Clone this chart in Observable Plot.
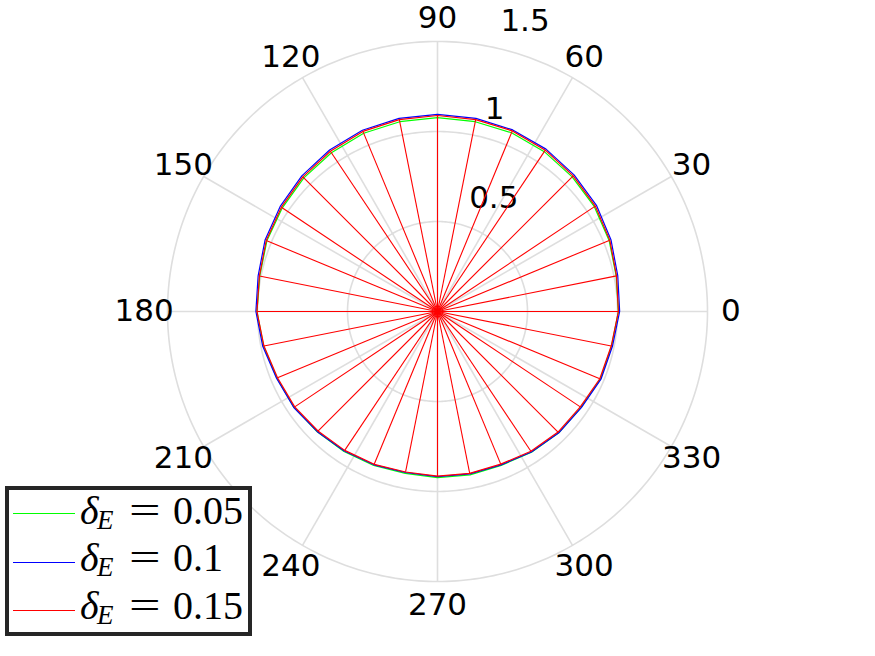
<!DOCTYPE html>
<html>
<head>
<meta charset="utf-8">
<script src="https://cdn.jsdelivr.net/npm/d3@7"></script>
<script src="https://cdn.jsdelivr.net/npm/@observablehq/plot@0.6"></script>
<style>
  html, body { margin: 0; padding: 0; background: #fff; }
  #wrap { position: relative; width: 875px; height: 656px; }
  #legend {
    position: absolute; left: 5px; top: 486px; width: 239px; height: 142px;
    border: 4px solid #262626; background: #fff;
    font-family: "Liberation Serif", "DejaVu Serif", serif; color: #000;
  }
  #legend .ln { position: absolute; left: 4px; width: 62px; height: 0; border-top: 1px solid; }
  #legend span { position: absolute; white-space: nowrap; line-height: 1; }
  #legend .big { font-size: 40px; }
  #legend .it { font-style: italic; }
  #legend .sub { font-size: 27px; font-style: italic; }
  #legend .eq { transform: scaleX(1.4); transform-origin: left center; }
</style>
</head>
<body>
<div id="wrap"></div>
<script>
// Angles (degrees) of the 32 sampled directions
const angles = [0, 11.25, 22.5, 33.75, 45, 56.25, 67.5, 78.75, 90, 101.25, 112.5, 123.75, 135, 146.25, 157.5, 168.75,
  180, 191.25, 202.5, 213.75, 225, 236.25, 247.5, 258.75, 270, 281.25, 292.5, 303.75, 315, 326.25, 337.5, 348.75];

// Radius values per series
const rGreen = [1.005, 1.012, 1.032, 1.048, 1.058, 1.068, 1.075, 1.075, 1.077, 1.075, 1.072, 1.061, 1.050, 1.037, 1.026, 1.007,
  1.003, 0.985, 0.966, 0.959, 0.945, 0.935, 0.926, 0.917, 0.923, 0.925, 0.925, 0.940, 0.953, 0.959, 0.980, 0.986];
const rBlue = [1.012, 1.021, 1.043, 1.062, 1.073, 1.085, 1.092, 1.094, 1.095, 1.094, 1.090, 1.079, 1.066, 1.051, 1.037, 1.016,
  1.009, 0.990, 0.968, 0.960, 0.944, 0.932, 0.922, 0.912, 0.917, 0.920, 0.922, 0.939, 0.953, 0.961, 0.983, 0.991];
const rRed = [1.005, 1.014, 1.036, 1.054, 1.066, 1.078, 1.086, 1.087, 1.089, 1.087, 1.083, 1.071, 1.058, 1.043, 1.030, 1.009,
  1.003, 0.983, 0.962, 0.954, 0.939, 0.928, 0.919, 0.909, 0.915, 0.917, 0.918, 0.934, 0.947, 0.954, 0.976, 0.984];

const seriesNames = ["δE = 0.05", "δE = 0.1", "δE = 0.15"];
const seriesValues = ["0.05", "0.1", "0.15"];
const seriesColors = ["#00ff00", "#0000ff", "#ff0000"];

// Polar grid
const rTicks = [0.5, 1, 1.5];
const rTickLabels = ["0.5", "1", "1.5"];
const thetaTicks = [0, 30, 60, 90, 120, 150, 180, 210, 240, 270, 300, 330];
const thetaLabels = ["0", "30", "60", "90", "120", "150", "180", "210", "240", "270", "300", "330"];
const rMax = 1.5;
const rAxisAngle = 80;
const labelRadius = 1.63;

const rad = d => d * Math.PI / 180;
const toXY = (r, a) => ({x: r * Math.cos(rad(a)), y: r * Math.sin(rad(a))});

function closedPath(rs, name) {
  const pts = angles.map((a, i) => ({...toXY(rs[i], a), s: name}));
  pts.push({...pts[0]});
  return pts;
}
const greenPts = closedPath(rGreen, seriesNames[0]);
const bluePts = closedPath(rBlue, seriesNames[1]);
const redPts = closedPath(rRed, seriesNames[2]);
const redSpokes = angles.map((a, i) => toXY(rRed[i], a));

const circles = rTicks.flatMap(r => d3.range(0, 361, 1).map(a => ({...toXY(r, a), r})));
const gridSpokes = thetaTicks.map(a => toXY(rMax, a));

const chart = Plot.plot({
  width: 875,
  height: 656,
  margin: 0,
  style: {fontFamily: "DejaVu Sans", background: "#fff"},
  x: {domain: [-437 / 180, 438 / 180], range: [0, 875], axis: null},
  y: {domain: [-345 / 180, 311 / 180], range: [656, 0], axis: null},
  marks: [
    Plot.line(circles, {x: "x", y: "y", z: "r", stroke: "#dedede", strokeWidth: 1.6}),
    Plot.link(gridSpokes, {x1: 0, y1: 0, x2: "x", y2: "y", stroke: "#dedede", strokeWidth: 1.6}),
    Plot.text(thetaTicks, {
      x: a => labelRadius * Math.cos(rad(a)), y: a => labelRadius * Math.sin(rad(a)),
      text: (a, i) => thetaLabels[i], fontSize: 31, fill: "#000"
    }),
    Plot.text(rTicks, {
      x: r => r * Math.cos(rad(rAxisAngle)), y: r => r * Math.sin(rad(rAxisAngle)),
      text: (r, i) => rTickLabels[i], fontSize: 31, fill: "#000",
      textAnchor: "start", dx: 16, dy: -25
    }),
    Plot.line(greenPts, {x: "x", y: "y", stroke: seriesColors[0], strokeWidth: 1.2, curve: "linear"}),
    Plot.line(bluePts, {x: "x", y: "y", stroke: seriesColors[1], strokeWidth: 1.2, curve: "linear"}),
    Plot.link(redSpokes, {x1: 0, y1: 0, x2: "x", y2: "y", stroke: seriesColors[2], strokeWidth: 1.1}),
    Plot.line(redPts, {x: "x", y: "y", stroke: seriesColors[2], strokeWidth: 1.2, curve: "linear"})
  ]
});

const wrap = document.getElementById("wrap");
wrap.appendChild(chart);

// Legend
const legend = document.createElement("div");
legend.id = "legend";
const rowTops = [0.5, 47.5, 95.5];
const lineTops = [23, 72, 120];
function addSpan(cls, text, left, top) {
  const s = document.createElement("span");
  s.className = cls;
  s.textContent = text;
  s.style.left = left + "px";
  s.style.top = top + "px";
  legend.appendChild(s);
}
seriesValues.forEach((v, i) => {
  const ln = document.createElement("div");
  ln.className = "ln";
  ln.style.borderColor = seriesColors[i];
  ln.style.top = lineTops[i] + "px";
  legend.appendChild(ln);
  const t = rowTops[i];
  addSpan("big it", "δ", 71, t);
  addSpan("sub", "E", 88, t + 16);
  addSpan("big eq", "=", 120, t);
  addSpan("big", v, 164, t);
});
wrap.appendChild(legend);
</script>
</body>
</html>
